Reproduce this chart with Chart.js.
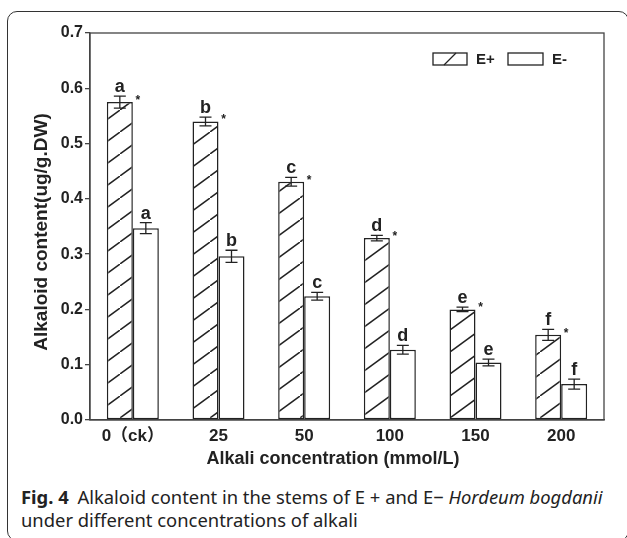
<!DOCTYPE html>
<html>
<head>
<meta charset="utf-8">
<script src="https://cdn.jsdelivr.net/npm/chart.js@4.4.0/dist/chart.umd.min.js"></script>
<style>
  html, body { margin: 0; padding: 0; background: #fff; }
  body { width: 627px; height: 538px; position: relative; overflow: hidden; }
  #frame {
    position: absolute; left: 7px; top: 11px; width: 622px; height: 530px;
    border: 1.3px solid #333; border-radius: 10px; box-sizing: border-box;
  }
  #wrap { position: absolute; left: 0; top: 0; width: 627px; height: 480px; }
  #caption {
    position: absolute; left: 21px; top: 485px; width: 605px; white-space: nowrap;
    font-family: "Noto Sans", "Open Sans", sans-serif; font-size: 18.4px;
    line-height: 23px; color: #222;
  }
  #caption b { font-weight: 700; margin-right: 4px; }
</style>
</head>
<body>
<div id="frame"></div>
<div id="wrap"><canvas id="chart"></canvas></div>
<div id="caption"><b>Fig. 4</b> Alkaloid content in the stems of E + and E− <i>Hordeum bogdanii</i><br>under different concentrations of alkali</div>
<script>
// 数据
const categories = ['0（ck）', '25', '50', '100', '150', '200'];
const ePlus = [0.575, 0.540, 0.431, 0.329, 0.200, 0.154];
const ePlusErr = [0.011, 0.008, 0.008, 0.005, 0.004, 0.010];
const eMinus = [0.347, 0.296, 0.224, 0.127, 0.104, 0.065];
const eMinusErr = [0.010, 0.011, 0.007, 0.008, 0.006, 0.009];
const ePlusLetters = ['a', 'b', 'c', 'd', 'e', 'f'];
const eMinusLetters = ['a', 'b', 'c', 'd', 'e', 'f'];
const yTicks = [0, 0.1, 0.2, 0.3, 0.4, 0.5, 0.6, 0.7];

const INK = '#222';
const FONT = '"Liberation Sans", Arial, "Noto Sans CJK SC", sans-serif';

// 斜线填充
function makeHatch() {
  const c = document.createElement('canvas');
  c.width = 30; c.height = 22;
  const g = c.getContext('2d');
  g.fillStyle = '#fff';
  g.fillRect(0, 0, 30, 22);
  g.strokeStyle = INK;
  g.lineWidth = 1.5;
  g.beginPath();
  g.moveTo(-3, 24.2); g.lineTo(33, -2.2);
  g.stroke();
  return g.createPattern(c, 'repeat');
}
const hatch = makeHatch();

const errorData = [ePlusErr, eMinusErr];
const letterData = [ePlusLetters, eMinusLetters];

const annotate = {
  id: 'annotate',
  afterDatasetsDraw(chart) {
    const ctx = chart.ctx;
    const y = chart.scales.y;
    const area = chart.chartArea;
    ctx.save();
    // 图框
    ctx.strokeStyle = '#444';
    ctx.lineWidth = 1.3;
    ctx.strokeRect(area.left, area.top, area.right - area.left, area.bottom - area.top);

    chart.data.datasets.forEach((ds, di) => {
      const meta = chart.getDatasetMeta(di);
      meta.data.forEach((bar, i) => {
        const v = ds.data[i];
        const e = errorData[di][i];
        const yHi = y.getPixelForValue(v + e);
        const yLo = y.getPixelForValue(v - e);
        const cap = 6;
        ctx.strokeStyle = INK;
        ctx.lineWidth = 1.3;
        ctx.beginPath();
        ctx.moveTo(bar.x, yHi); ctx.lineTo(bar.x, yLo);
        ctx.moveTo(bar.x - cap, yHi); ctx.lineTo(bar.x + cap, yHi);
        ctx.moveTo(bar.x - cap, yLo); ctx.lineTo(bar.x + cap, yLo);
        ctx.stroke();

        ctx.fillStyle = INK;
        ctx.textAlign = 'center';
        ctx.textBaseline = 'alphabetic';
        ctx.font = 'bold 18px ' + FONT;
        ctx.fillText(letterData[di][i], bar.x, yHi - 4);
        if (di === 0) {
          ctx.font = 'bold 12px ' + FONT;
          ctx.fillText('*', bar.x + bar.width / 2 + 5, y.getPixelForValue(v) + 2);
        }
      });
    });

    // 图例
    ctx.lineWidth = 1.3;
    ctx.strokeStyle = INK;
    ctx.fillStyle = '#fff';
    ctx.fillRect(433, 53, 34, 12);
    ctx.strokeRect(433, 53, 34, 12);
    ctx.beginPath();
    ctx.moveTo(444, 65); ctx.lineTo(456, 53);
    ctx.stroke();
    ctx.strokeRect(508, 53, 35, 12);
    ctx.fillStyle = INK;
    ctx.font = 'bold 15px ' + FONT;
    ctx.textAlign = 'left';
    ctx.textBaseline = 'middle';
    ctx.fillText('E+', 476, 60);
    ctx.fillText('E-', 552, 60);

    // 坐标轴标题
    ctx.font = 'bold 18px ' + FONT;
    ctx.textAlign = 'center';
    ctx.fillText('Alkali concentration (mmol/L)', 333, 459);
    ctx.font = 'bold 19px ' + FONT;
    ctx.translate(42, 232);
    ctx.rotate(-Math.PI / 2);
    ctx.fillText('Alkaloid content(ug/g.DW)', 0, 0);
    ctx.restore();
  }
};

new Chart(document.getElementById('chart'), {
  type: 'bar',
  data: {
    labels: categories,
    datasets: [
      {
        label: 'E+',
        data: ePlus,
        backgroundColor: hatch,
        borderColor: INK,
        borderWidth: 1.5,
        borderSkipped: false
      },
      {
        label: 'E-',
        data: eMinus,
        backgroundColor: '#fff',
        borderColor: INK,
        borderWidth: 1.5,
        borderSkipped: false
      }
    ]
  },
  options: {
    responsive: true,
    maintainAspectRatio: false,
    animation: false,
    devicePixelRatio: 1,
    layout: { padding: { left: 0, top: 33, right: 23, bottom: 0 } },
    datasets: { bar: { categoryPercentage: 0.607, barPercentage: 1 } },
    plugins: { legend: { display: false }, tooltip: { enabled: false } },
    scales: {
      x: {
        grid: { display: false, drawTicks: false },
        border: { display: true, color: '#444', width: 1.3 },
        ticks: { color: INK, padding: 6, font: { family: FONT, size: 17, weight: 'bold' } },
        afterFit(scale) { scale.height = 60; }
      },
      y: {
        min: 0,
        max: 0.7,
        grid: { drawOnChartArea: false, drawTicks: true, tickLength: 5, color: '#444', lineWidth: 1.3 },
        border: { display: true, color: '#444', width: 1.3 },
        afterBuildTicks(scale) { scale.ticks = yTicks.map(v => ({ value: v })); },
        ticks: {
          color: INK,
          padding: 2,
          font: { family: FONT, size: 16, weight: 'bold' },
          callback: v => v.toFixed(1)
        },
        afterFit(scale) { scale.width = 90; }
      }
    }
  },
  plugins: [annotate]
});
</script>
</body>
</html>
